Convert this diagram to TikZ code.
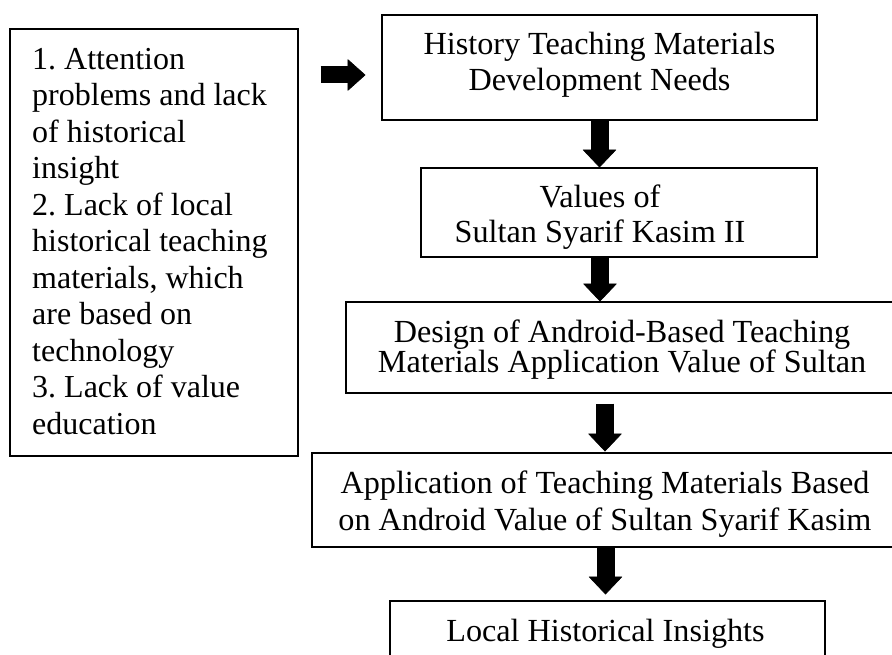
\documentclass[tikz,border=0pt]{standalone}
\usepackage{fontspec}
\setmainfont{Liberation Serif}
\usetikzlibrary{arrows.meta,calc}
\frenchspacing
\begin{document}
\begin{tikzpicture}[x=1pt,y=-1pt,
  box/.style={draw, line width=1.2pt, inner sep=0pt, rectangle},
  txt/.style={inner sep=0pt, align=center, font=\fontsize{32.2}{35.5}\selectfont},
  downarrow/.style={line width=18pt, -{Triangle[length=18pt,width=34pt,line width=0.6pt,round]}},
  rightarrow/.style={line width=17pt, -{Triangle[length=18pt,width=32pt,line width=0.6pt,round]}}]
\useasboundingbox (0,0) rectangle (892,655);
\fill[white] (0,0) rectangle (892,655);
\clip (0,0) rectangle (892,655);
% left box
\node[box, minimum width=288pt, minimum height=427pt] (bl) at (154,242.5) {};
\node[txt, align=left, anchor=north west, font=\fontsize{32}{36.5}\selectfont] (tl) at (32,48)
  {1. Attention\\problems and lack\\of historical\\insight\\2. Lack of local\\historical teaching\\materials, which\\are based on\\technology\\3. Lack of value\\education};
% right column boxes
\node[box, minimum width=435pt, minimum height=105pt] (b1) at (599.5,67.5) {};
\node[txt] (t1) at (599.5,65) {History Teaching Materials\\Development Needs};
\node[box, minimum width=396pt, minimum height=89pt] (b2) at (619,212.5) {};
\node[txt] (t2) at (600,217) {Values of\\Sultan Syarif Kasim II};
\node[box, minimum width=554pt, minimum height=91pt] (b3) at (623,347.5) {};
\node[txt, font=\fontsize{32.2}{30}\selectfont] (t3) at (622,350) {Design of Android-Based Teaching\\Materials Application Value of Sultan};
\node[box, minimum width=586pt, minimum height=94pt] (b4) at (605,500) {};
\node[txt, font=\fontsize{32.2}{37}\selectfont] (t4) at (605,504) {Application of Teaching Materials Based\\on Android Value of Sultan Syarif Kasim};
\node[box, minimum width=435pt, minimum height=80pt] (b5) at (607.5,641) {};
\node[txt] (t5) at (605.5,634) {Local Historical Insights};
% connectors
\draw[rightarrow] ($(bl.east |- b1.west)+(22,7.5)$) -- ($(b1.west)+(-16,7.5)$);
\draw[downarrow] (b1.south) -- (b1.south |- b2.north);
\draw[downarrow] (t2 |- b2.south) -- (t2 |- b3.north);
\draw[downarrow] ($(t4 |- b3.south)+(0,10)$) -- ($(t4 |- b4.north)+(0,-1)$);
\draw[downarrow] (t5 |- b4.south) -- ($(t5 |- b5.north)+(0,-6)$);
\end{tikzpicture}
\end{document}
